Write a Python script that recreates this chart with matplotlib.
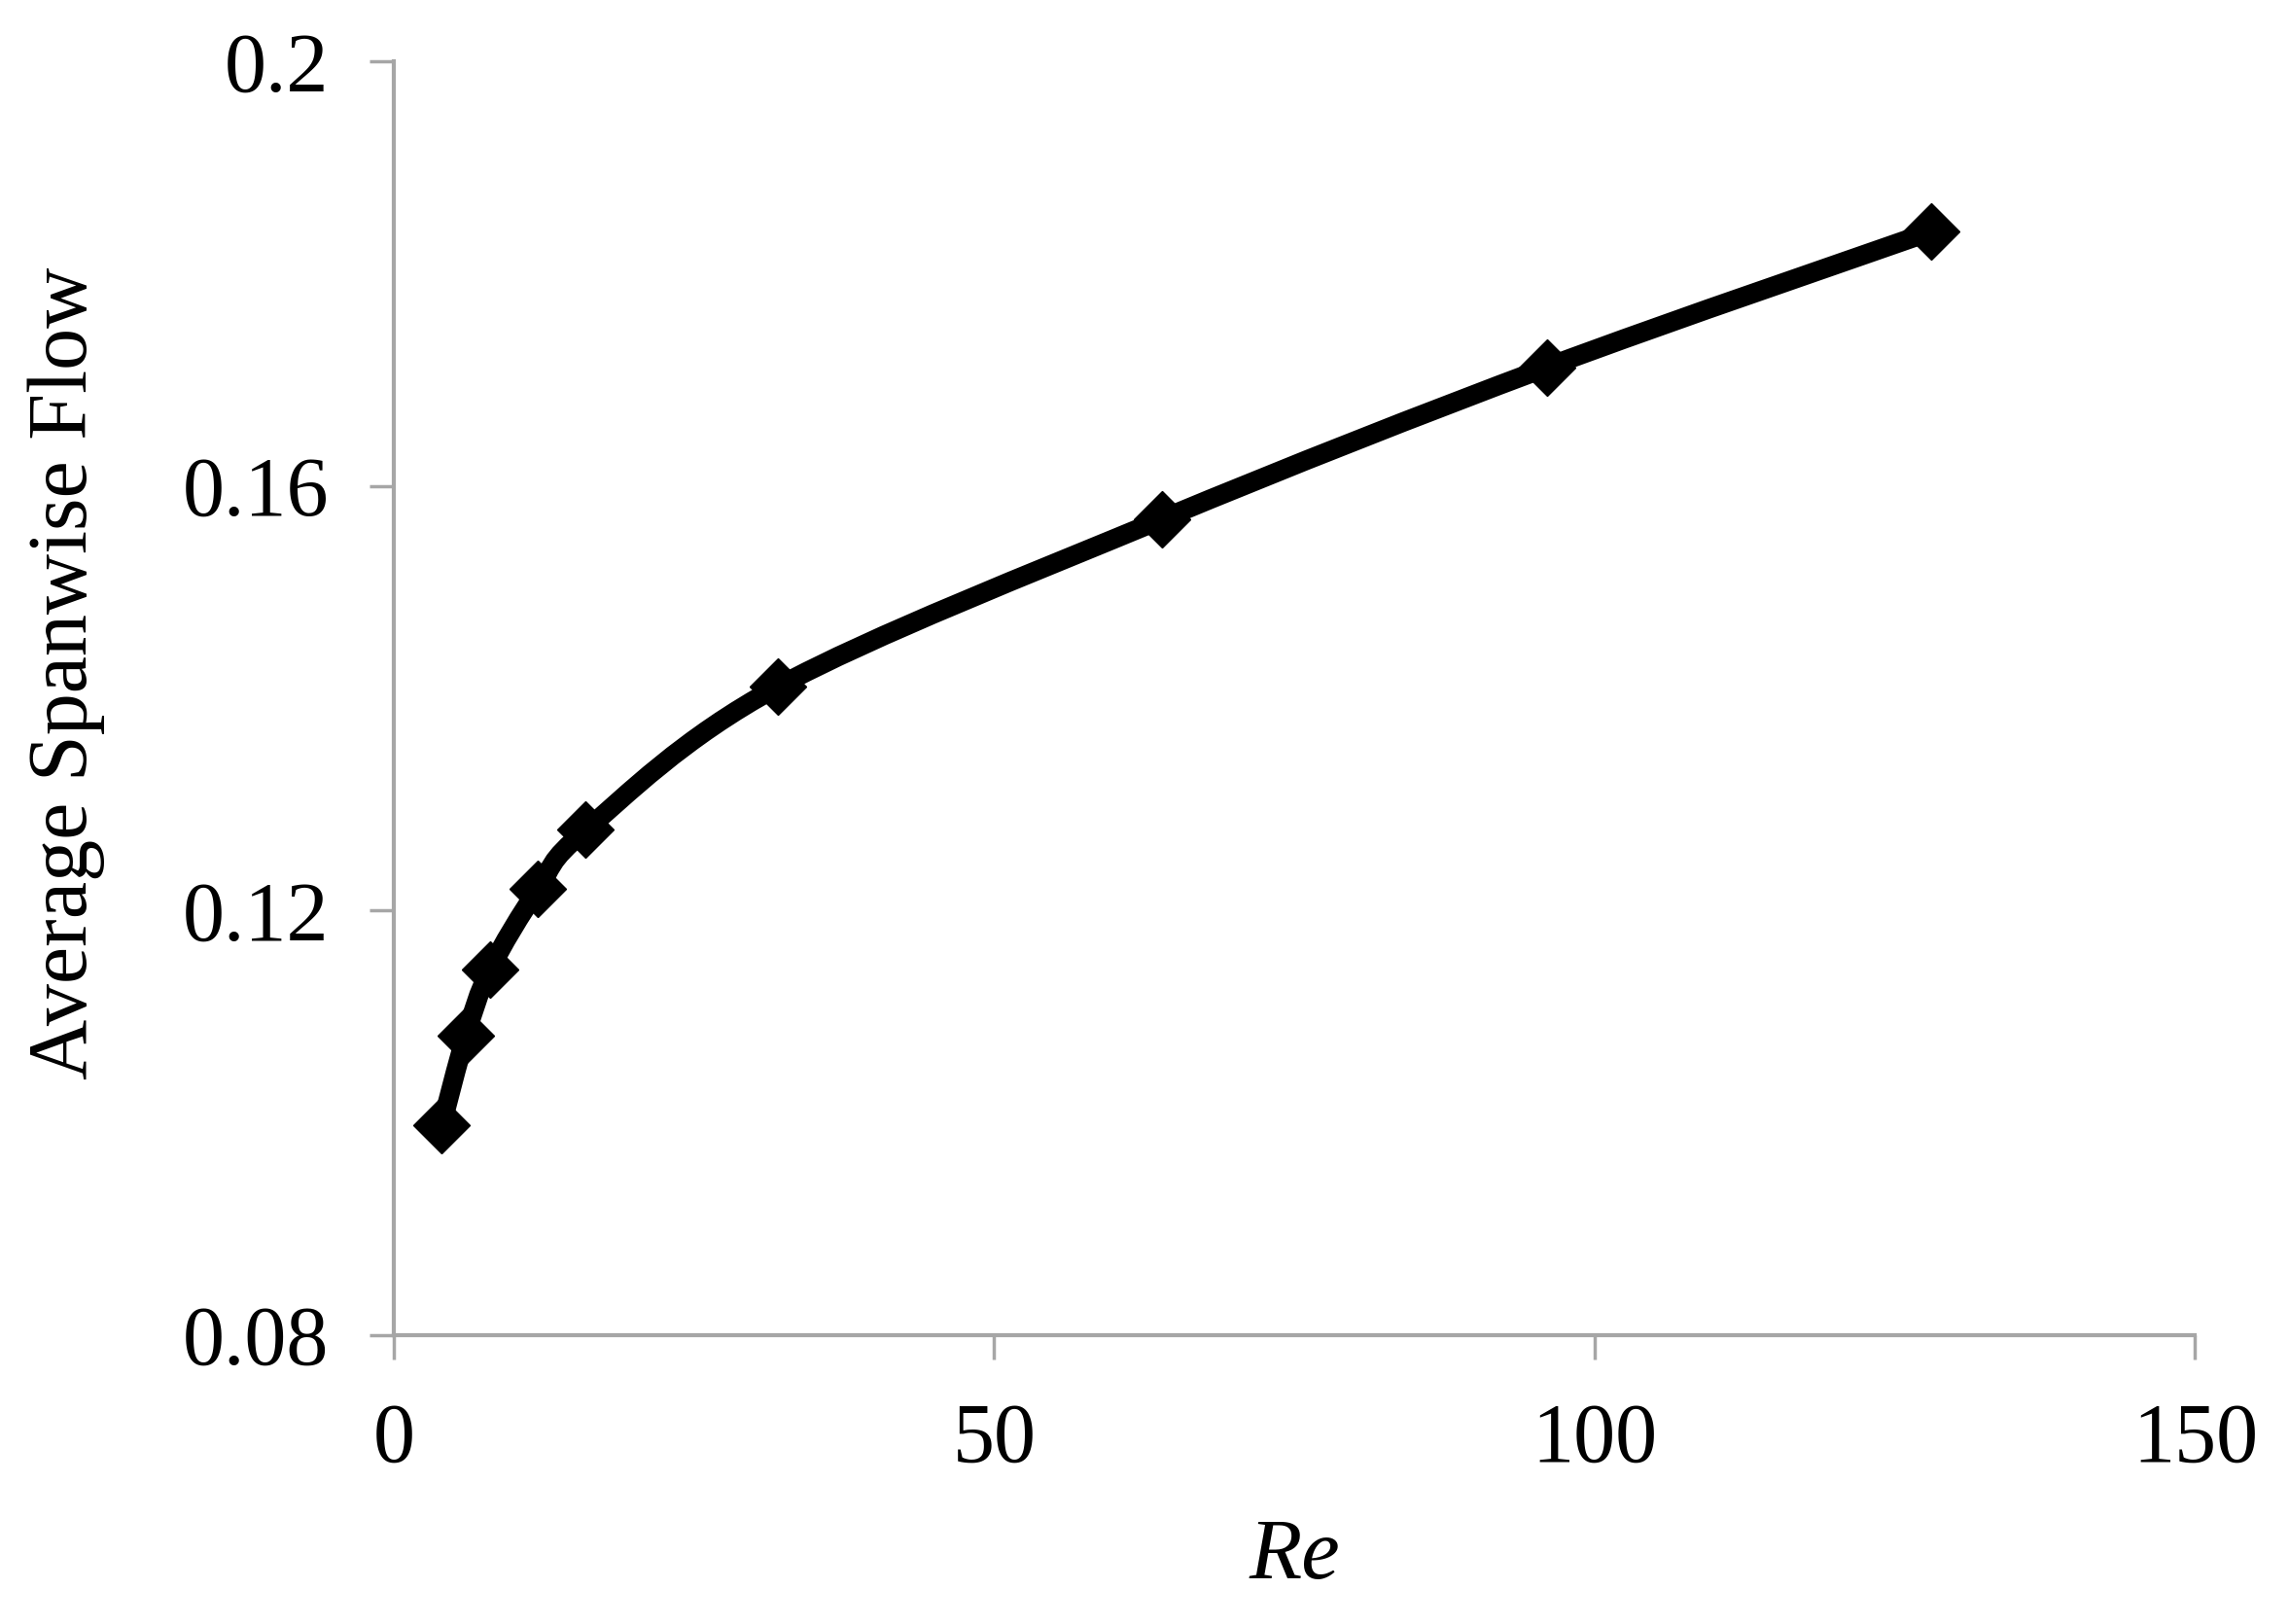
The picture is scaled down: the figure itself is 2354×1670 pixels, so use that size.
import numpy as np
import matplotlib
matplotlib.use("Agg")
import matplotlib.pyplot as plt
from matplotlib.path import Path
from matplotlib.patches import PathPatch

# data
re_vals = [4, 6, 8, 12, 16, 32, 64, 96, 128]
flow = [0.0998, 0.1082, 0.1144, 0.1220, 0.1276, 0.1411, 0.1569, 0.1712, 0.1840]

x_ticks = [0, 50, 100, 150]
y_ticks = [0.08, 0.12, 0.16, 0.2]
y_tick_labels = ["0.08", "0.12", "0.16", "0.2"]

grey = "#A6A6A6"
plt.rcParams['font.family'] = ['Liberation Serif', 'DejaVu Serif']

fig = plt.figure(figsize=(23.54, 16.70), dpi=100)
ax = fig.add_axes([0.172, 0.178, 0.787, 0.784])


# smooth line like excel (catmull-rom through the points, as bezier curves)
def smooth_path(xs, ys):
    p = np.column_stack([xs, ys])
    n = len(p)
    verts = [p[0]]
    codes = [Path.MOVETO]
    for i in range(n - 1):
        p0 = p[i - 1] if i > 0 else p[i]
        p3 = p[i + 2] if i + 2 < n else p[i + 1]
        c1 = p[i] + (p[i + 1] - p0) / 6
        c2 = p[i + 1] - (p3 - p[i]) / 6
        verts += [c1, c2, p[i + 1]]
        codes += [Path.CURVE4] * 3
    return Path(verts, codes)


ax.add_patch(PathPatch(smooth_path(re_vals, flow), facecolor="none",
                       edgecolor="black", lw=14.5, capstyle="butt", joinstyle="round"))

ax.plot(re_vals, flow, linestyle="none", marker="D", markersize=30,
        color="black")

ax.set_xlim(0, 150)
ax.set_ylim(0.08, 0.2)
ax.set_xticks(x_ticks)
ax.set_yticks(y_ticks)
ax.set_yticklabels(y_tick_labels)

for s in ["top", "right"]:
    ax.spines[s].set_visible(False)
for s in ["left", "bottom"]:
    ax.spines[s].set_color(grey)
    ax.spines[s].set_linewidth(3)

ax.tick_params(axis="both", direction="out", length=18, width=2.5, color=grey,
               labelsize=62)
ax.tick_params(axis="y", pad=30)
ax.tick_params(axis="x", pad=32)

ax.set_xlabel("Re", fontsize=64, style="italic", labelpad=28)
ax.set_ylabel("Average Spanwise Flow", fontsize=62)
ax.yaxis.set_label_coords(-0.16, 0.52)

fig.savefig("out.png", dpi=100)
